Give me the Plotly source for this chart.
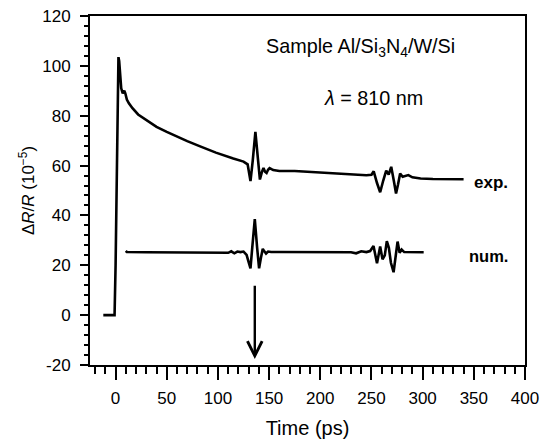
import plotly.graph_objects as go

# Experimental trace (time in ps, dR/R in 1e-5)
exp_t = [-12, -1, 0, 1, 2, 2.8, 3.5, 4.5, 5.5, 7, 8.5, 9.5, 11, 13, 16.5, 22, 28, 33, 40, 50,
         60, 70, 82, 98, 115, 125, 129, 131.8, 134, 136.6, 139, 141, 143, 144.5, 146, 147.5,
         149, 150.5, 154, 160, 175, 200, 225, 245, 250, 252.2, 255.4, 258.5, 261.5, 264.4,
         266.8, 269.3, 271.8, 274, 276, 278, 280.5, 283, 286, 290, 298, 310, 325, 340]
exp_v = [0, 0, 20, 55, 90, 103.5, 102, 95, 91, 89, 90, 89, 86.5, 85, 83, 80.5, 78.8, 77.5, 75.5, 73.5,
         71.5, 69.8, 67.8, 65.2, 62.8, 61.6, 60.5, 53.8, 62, 73.5, 63, 54.4, 57.5, 59, 57.5, 57,
         58.3, 59, 58.2, 57.8, 57.8, 57.2, 56.5, 56.1, 56.3, 57.7, 53, 49.3, 54, 58,
         56.4, 59.5, 54, 48.8, 52.5, 56.8, 55.5, 55.8, 56.2, 55.3, 54.8, 54.6, 54.4, 54.5]

# Numerical trace
num_t = [10, 11, 30, 105, 110, 113, 116, 119, 122, 125, 128, 129.5, 131.8, 133.5, 136, 138.3,
         140.2, 142, 143.8, 145.5, 147, 149, 152, 160, 230, 235, 240, 245, 248.7, 252, 255.4,
         258.5, 260.8, 263, 265, 267, 269, 271.6, 273.5, 275.5, 277.5, 279.5, 282, 290, 301]
num_v = [25.8, 25.3, 25.2, 25.2, 25.0, 25.6, 24.8, 25.5, 25.3, 25.5, 24.2, 22, 18.8, 27, 38.5, 27,
         18.8, 23, 26.6, 25.5, 24.7, 25.5, 25.3, 25.3, 25.2, 24.8, 25.6, 25.3, 25.7, 27.7, 20.8,
         27.5, 22.4, 24, 29.7, 27, 21, 17.2, 23, 29.5, 25, 26.3, 25.3, 25.2, 25.2]

# Echo marker arrow (time, from, to)
arrow_t = 136
arrow_from = 12.4
arrow_to = -17.6

x_range = [-25, 400]
y_range = [-20, 120]
x_ticks = [0, 50, 100, 150, 200, 250, 300, 350, 400]
x_tick_labels = ["0", "50", "100", "150", "200", "250", "300", "350", "400"]
y_ticks = [-20, 0, 20, 40, 60, 80, 100, 120]
y_tick_labels = ["-20", "0", "20", "40", "60", "80", "100", "120"]

FONT = "Liberation Sans, Arial, Helvetica, sans-serif"

fig = go.Figure()
fig.add_trace(go.Scatter(x=exp_t, y=exp_v, mode="lines",
                         line=dict(color="black", width=2.6), showlegend=False))
fig.add_trace(go.Scatter(x=num_t, y=num_v, mode="lines",
                         line=dict(color="black", width=2.6), showlegend=False))

fig.add_annotation(x=arrow_t, y=arrow_to, ax=arrow_t, ay=arrow_from, axref="x", ayref="y",
                   xref="x", yref="y", text="", showarrow=True, arrowhead=5,
                   arrowsize=1.2, arrowwidth=2.4, arrowcolor="black")

fig.add_annotation(x=0.622, y=0.911, xref="paper", yref="paper", showarrow=False,
                   text="Sample Al/Si<sub>3</sub>N<sub>4</sub>/W/Si",
                   font=dict(size=19.8, color="black", family=FONT), xanchor="center", yanchor="middle")
fig.add_annotation(x=0.651, y=0.765, xref="paper", yref="paper", showarrow=False,
                   text="<i>λ</i> = 810 nm",
                   font=dict(size=19.8, color="black", family=FONT), xanchor="center", yanchor="middle")
fig.add_annotation(x=0.921, y=0.5215, xref="paper", yref="paper", showarrow=False,
                   text="<b>exp.</b>",
                   font=dict(size=17, color="black", family=FONT), xanchor="center", yanchor="middle")
fig.add_annotation(x=0.915, y=0.313, xref="paper", yref="paper", showarrow=False,
                   text="<b>num.</b>",
                   font=dict(size=16.5, color="black", family=FONT), xanchor="center", yanchor="middle")

fig.update_layout(
    width=545, height=440,
    margin=dict(l=90, r=20, t=16, b=75, autoexpand=False),
    paper_bgcolor="white", plot_bgcolor="white",
    font=dict(family=FONT, size=17, color="black"),
    showlegend=False,
)
fig.update_xaxes(range=x_range, tickvals=x_ticks, ticktext=x_tick_labels,
                 showgrid=False, zeroline=False, automargin=False,
                 showline=True, linecolor="black", linewidth=2, mirror=True,
                 ticks="outside", ticklen=13, tickwidth=2, tickcolor="black", ticklabelstandoff=4,
                 minor=dict(dtick=10, tick0=0, ticks="outside", ticklen=7, tickwidth=2,
                            tickcolor="black", showgrid=False),
                 title=dict(text="Time (ps)", font=dict(size=20), standoff=14),
                 tickfont=dict(size=17))
fig.update_yaxes(range=y_range, tickvals=y_ticks, ticktext=y_tick_labels,
                 showgrid=False, zeroline=False, automargin=False,
                 showline=True, linecolor="black", linewidth=2, mirror=True,
                 ticks="outside", ticklen=8, tickwidth=2, tickcolor="black", ticklabelstandoff=6,
                 minor=dict(dtick=4, tick0=0, ticks="outside", ticklen=4, tickwidth=2,
                            tickcolor="black", showgrid=False),
                 title=dict(text="Δ<i>R</i>/<i>R</i> (10<sup>−5</sup>)", font=dict(size=17), standoff=3),
                 tickfont=dict(size=17))

fig.write_html("out.html", config={"displayModeBar": False},
               post_script="document.body.style.margin='0px';")
